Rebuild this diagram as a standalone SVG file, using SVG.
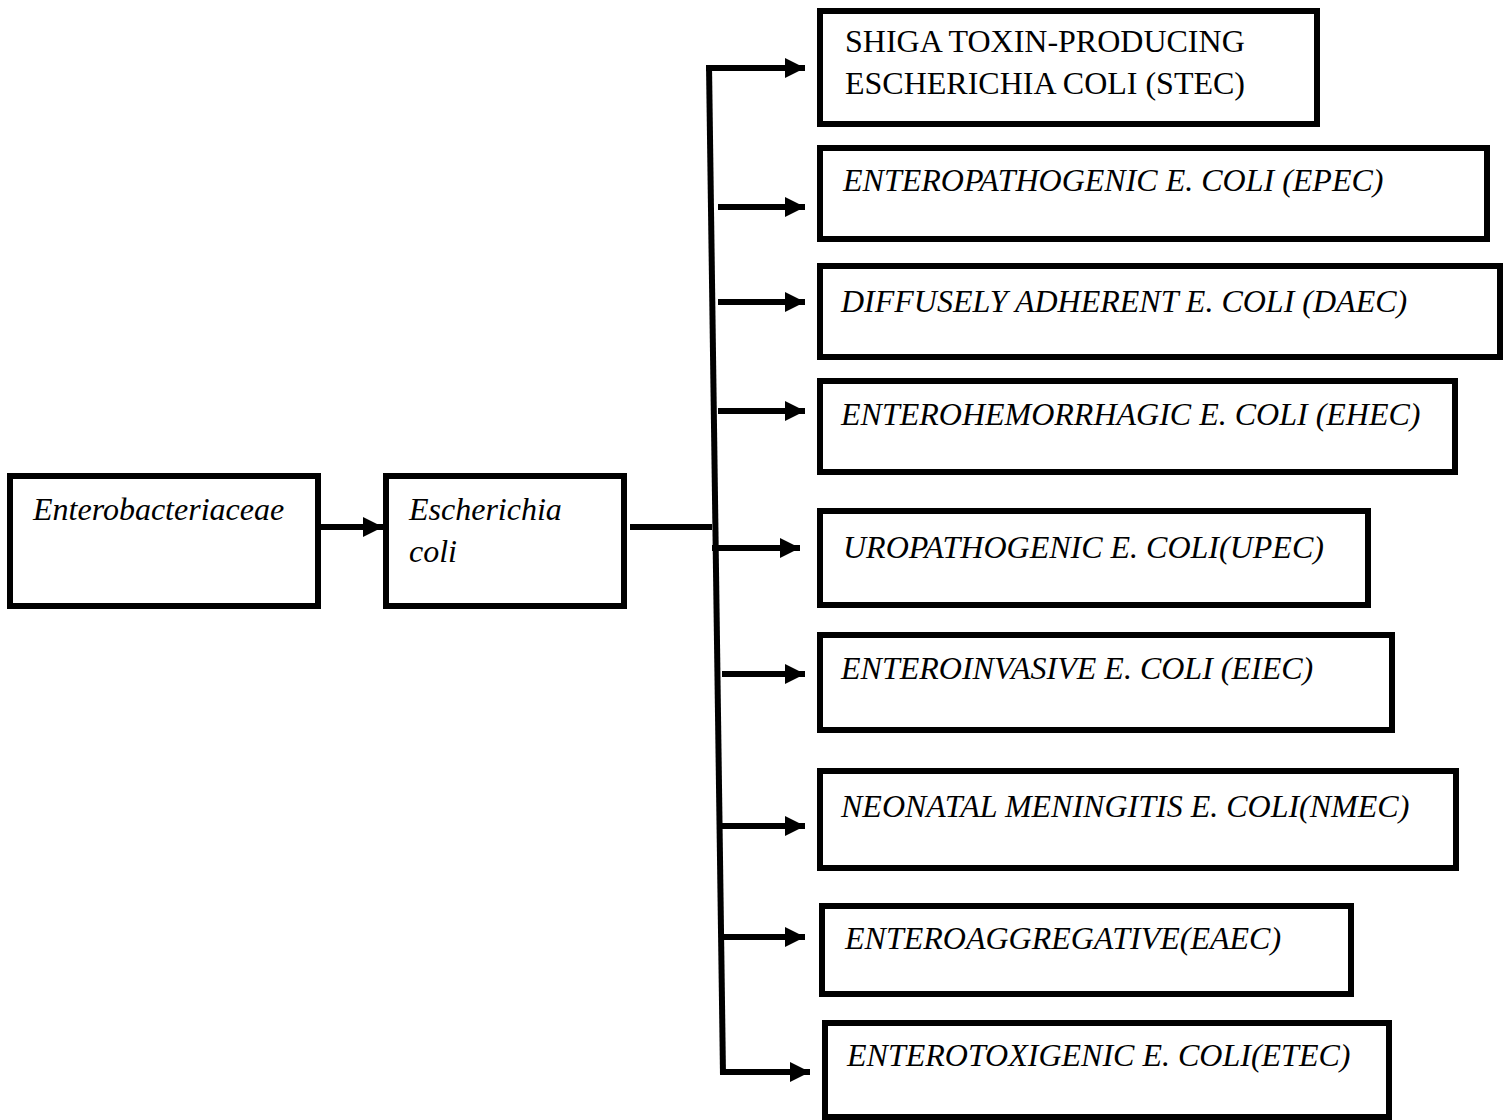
<svg xmlns="http://www.w3.org/2000/svg" width="1509" height="1120" viewBox="0 0 1509 1120">
<style>
.box{fill:#fff;stroke:#000;stroke-width:6}
.t{font-family:"Liberation Serif","Times New Roman",serif;font-size:32px;fill:#000}
.i{font-style:italic}
.c{stroke:#000;stroke-width:6;fill:none}
</style>
<defs>
<marker id="ah" markerUnits="userSpaceOnUse" markerWidth="20" markerHeight="22" viewBox="0 0 20 22" refX="20" refY="11" orient="auto">
<path d="M0,1 L20,11 L0,21 z" fill="#000"/>
</marker>
</defs>
<rect width="1509" height="1120" fill="#fff"/>
<g id="connectors">
<line class="c" x1="318" y1="527" x2="383" y2="527" marker-end="url(#ah)"/>
<line class="c" x1="630" y1="527" x2="712" y2="527"/>
<line class="c" x1="709" y1="65" x2="723" y2="1075"/>
<line class="c" x1="706" y1="68" x2="805" y2="68" marker-end="url(#ah)"/>
<line class="c" x1="718" y1="207" x2="805" y2="207" marker-end="url(#ah)"/>
<line class="c" x1="718" y1="302" x2="805" y2="302" marker-end="url(#ah)"/>
<line class="c" x1="718" y1="411" x2="805" y2="411" marker-end="url(#ah)"/>
<line class="c" x1="712" y1="548" x2="800" y2="548" marker-end="url(#ah)"/>
<line class="c" x1="722" y1="674" x2="805" y2="674" marker-end="url(#ah)"/>
<line class="c" x1="722" y1="826" x2="805" y2="826" marker-end="url(#ah)"/>
<line class="c" x1="722" y1="937" x2="805" y2="937" marker-end="url(#ah)"/>
<line class="c" x1="720" y1="1072" x2="810" y2="1072" marker-end="url(#ah)"/>
</g>
<g id="enterobacteriaceae">
<rect class="box" x="10" y="476" width="308" height="130"/>
<text class="t i" x="33" y="520">Enterobacteriaceae</text>
</g>
<g id="ecoli">
<rect class="box" x="386" y="476" width="238" height="130"/>
<text class="t i" x="409" y="520">Escherichia</text>
<text class="t i" x="409" y="562">coli</text>
</g>
<g id="stec">
<rect class="box" x="820" y="11" width="497" height="113"/>
<text class="t" x="845" y="52">SHIGA TOXIN-PRODUCING</text>
<text class="t" x="845" y="94">ESCHERICHIA COLI (STEC)</text>
</g>
<g id="epec">
<rect class="box" x="820" y="148" width="667" height="91"/>
<text class="t i" x="843" y="191">ENTEROPATHOGENIC E. COLI (EPEC)</text>
</g>
<g id="daec">
<rect class="box" x="820" y="266" width="680" height="91"/>
<text class="t i" x="841" y="312">DIFFUSELY ADHERENT E. COLI (DAEC)</text>
</g>
<g id="ehec">
<rect class="box" x="820" y="381" width="635" height="91"/>
<text class="t i" x="841" y="425">ENTEROHEMORRHAGIC E. COLI (EHEC)</text>
</g>
<g id="upec">
<rect class="box" x="820" y="511" width="548" height="94"/>
<text class="t i" x="843" y="558">UROPATHOGENIC E. COLI(UPEC)</text>
</g>
<g id="eiec">
<rect class="box" x="820" y="635" width="572" height="95"/>
<text class="t i" x="841" y="679">ENTEROINVASIVE E. COLI (EIEC)</text>
</g>
<g id="nmec">
<rect class="box" x="820" y="771" width="636" height="97"/>
<text class="t i" x="841" y="817">NEONATAL MENINGITIS E. COLI(NMEC)</text>
</g>
<g id="eaec">
<rect class="box" x="822" y="906" width="529" height="88"/>
<text class="t i" x="845" y="949">ENTEROAGGREGATIVE(EAEC)</text>
</g>
<g id="etec">
<rect class="box" x="825" y="1023" width="564" height="94"/>
<text class="t i" x="847" y="1066">ENTEROTOXIGENIC E. COLI(ETEC)</text>
</g>
</svg>
